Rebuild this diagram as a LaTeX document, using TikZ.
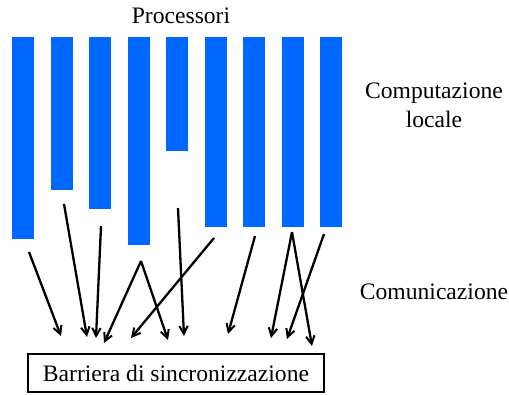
\documentclass[tikz,border=0pt]{standalone}
\usepackage{fontspec}
\setmainfont{Liberation Serif}
\usetikzlibrary{arrows.meta}
\definecolor{procblue}{RGB}{0,104,255}
\begin{document}
\begin{tikzpicture}[x=1pt,y=-1pt,
  bar/.style={rectangle,fill=procblue,draw=none,inner sep=0pt,anchor=north west,minimum width=22pt},
  label/.style={inner sep=0pt,anchor=base,font=\fontsize{23.6}{26}\selectfont},
  msg/.style={line width=2.3pt,-{Straight Barb[length=8pt,width=8.5pt,line width=2pt]}}]
\useasboundingbox (0,0) rectangle (509,394);

% processor bars (local computation phase)
\node[bar,minimum height=202pt] (p1) at (12,37) {};
\node[bar,minimum height=153pt] (p2) at (51,37) {};
\node[bar,minimum height=172pt] (p3) at (89,37) {};
\node[bar,minimum height=208pt] (p4) at (128,37) {};
\node[bar,minimum height=114pt] (p5) at (166,37) {};
\node[bar,minimum height=190pt] (p6) at (205,37) {};
\node[bar,minimum height=190pt] (p7) at (243,37) {};
\node[bar,minimum height=190pt] (p8) at (282,37) {};
\node[bar,minimum height=190pt] (p9) at (320,37) {};

% labels
\node[label] (tproc) at (181,23) {Processori};
\node[label] (tcomp) at (434,98) {Computazione};
\node[label] (tloc) at (434,127) {locale};
\node[label] (tcomm) at (434,299) {Comunicazione};

% synchronisation barrier
\node[draw,line width=2.3pt,minimum width=296pt,minimum height=38pt,inner sep=0pt,
      font=\fontsize{23.6}{26}\selectfont] (barrier) at (176,373) {Barriera di sincronizzazione};

% message start and end points
\coordinate (s1) at (29,252);  \coordinate (e1) at (61,336);
\coordinate (s2) at (64,204);  \coordinate (e2) at (87,337);
\coordinate (s3) at (101,226); \coordinate (e3) at (96,338);
\coordinate (s4) at (141,261); \coordinate (e4a) at (104,343); \coordinate (e4b) at (168,340);
\coordinate (s5) at (178,208); \coordinate (e5) at (184,336);
\coordinate (s6) at (214,238); \coordinate (e6) at (131,338);
\coordinate (s7) at (255,236); \coordinate (e7) at (228,334);
\coordinate (s8) at (292,232); \coordinate (e8a) at (271,338); \coordinate (e8b) at (312,346);
\coordinate (s9) at (324,234); \coordinate (e9) at (287,339);

% communication phase
\draw[msg] (s1) -- (e1);
\draw[msg] (s2) -- (e2);
\draw[msg] (s3) -- (e3);
\draw[msg] (s4) -- (e4a);
\draw[msg] (s4) -- (e4b);
\draw[msg] (s5) -- (e5);
\draw[msg] (s6) -- (e6);
\draw[msg] (s7) -- (e7);
\draw[msg] (s8) -- (e8a);
\draw[msg] (s8) -- (e8b);
\draw[msg] (s9) -- (e9);
\end{tikzpicture}
\end{document}
